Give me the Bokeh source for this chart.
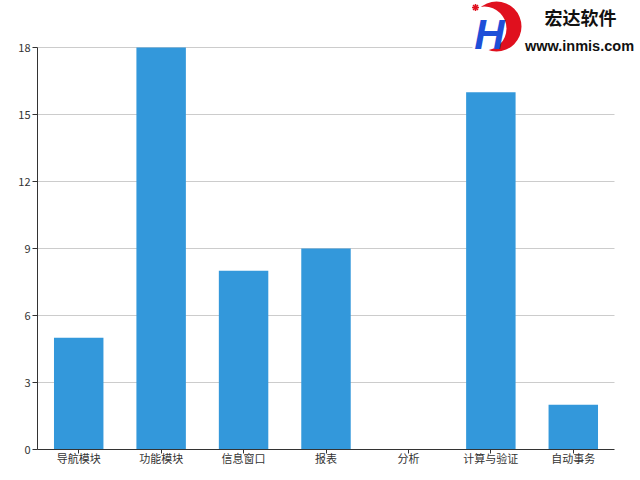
from bokeh.plotting import figure
from bokeh.models import Range1d, FixedTicker, Label
from bokeh.embed import file_html
from bokeh.resources import INLINE

categories = ["导航模块", "功能模块", "信息窗口", "报表", "分析", "计算与验证", "自动事务"]
values = [5, 18, 8, 9, 0, 16, 2]
y_ticks = [0, 3, 6, 9, 12, 15, 18]

FONT = "Noto Sans CJK SC"
xpos = list(range(len(categories)))
n = len(categories)

# frame: left 37 .. right 640 (plot area ends at 614), top 0 .. bottom 449
px_per_cat = 577 / n
x_end = -0.5 + 603 / px_per_cat
y_end = 18 + 47 / (402 / 18)

p = figure(
    x_range=Range1d(-0.5, x_end),
    y_range=Range1d(0, y_end),
    frame_width=603, frame_height=449,
    min_border_left=37, min_border_right=0, min_border_top=0, min_border_bottom=31,
    output_backend="svg", toolbar_location=None,
)
p.extra_x_ranges = {"px": Range1d(37, 640)}
p.extra_y_ranges = {"px": Range1d(449, 0)}

p.outline_line_color = None
p.background_fill_color = "white"
p.border_fill_color = "white"

p.vbar(x=xpos, top=values, width=0.6, bottom=0, color="#3398DB", line_color=None)

# axes
p.xaxis.ticker = FixedTicker(ticks=xpos)
p.xaxis.major_label_overrides = {i: c for i, c in zip(xpos, categories)}
p.xaxis.bounds = (-0.5, n - 0.5)
p.yaxis.ticker = FixedTicker(ticks=y_ticks)
p.yaxis.bounds = (0, 18)
for ax in (p.xaxis, p.yaxis):
    ax.axis_line_color = "#333333"
    ax.major_tick_line_color = "#333333"
    ax.minor_tick_line_color = None
    ax.major_tick_in = 0
    ax.major_tick_out = 5
    ax.major_label_text_color = "#333333"
    ax.major_label_text_font = FONT
    ax.major_label_text_font_size = "11px"
p.yaxis.major_label_standoff = 2
p.xaxis.major_tick_out = 4
p.xaxis.major_label_standoff = -4

p.xgrid.grid_line_color = None
p.ygrid.ticker = FixedTicker(ticks=y_ticks)
p.ygrid.grid_line_color = "#cccccc"

# hide grid beyond the plot area on the right
p.quad(left=[614], right=[640], top=[0], bottom=[448.5], color="white", line_color=None,
       x_range_name="px", y_range_name="px")

# logo (decoration)
p.quad(left=[472], right=[640], top=[0], bottom=[53], color="white", line_color=None,
       x_range_name="px", y_range_name="px")
p.circle(x=[496], y=[26], radius=25, color="#e0101e", line_color=None,
         x_range_name="px", y_range_name="px")
p.circle(x=[484], y=[28], radius=22, color="white", line_color=None,
         x_range_name="px", y_range_name="px")
p.scatter(x=[475], y=[7], size=7, marker="asterisk", line_color="#e0101e", line_width=1.5,
          x_range_name="px", y_range_name="px")
p.add_layout(Label(x=489, y=34, text="H", x_range_name="px", y_range_name="px",
                   text_align="center", text_baseline="middle",
                   text_font="Liberation Sans", text_font_style="bold italic",
                   text_font_size="42px", text_color="#1e4fd8"))
p.add_layout(Label(x=580, y=16, text="宏达软件", x_range_name="px", y_range_name="px",
                   text_align="center", text_baseline="middle",
                   text_font=FONT, text_font_style="bold",
                   text_font_size="18px", text_color="#111111"))
p.add_layout(Label(x=579, y=45, text="www.inmis.com", x_range_name="px", y_range_name="px",
                   text_align="center", text_baseline="middle",
                   text_font="Liberation Sans", text_font_style="bold",
                   text_font_size="14.5px", text_color="#111111"))

open("out.html", "w").write(file_html(p, INLINE))
